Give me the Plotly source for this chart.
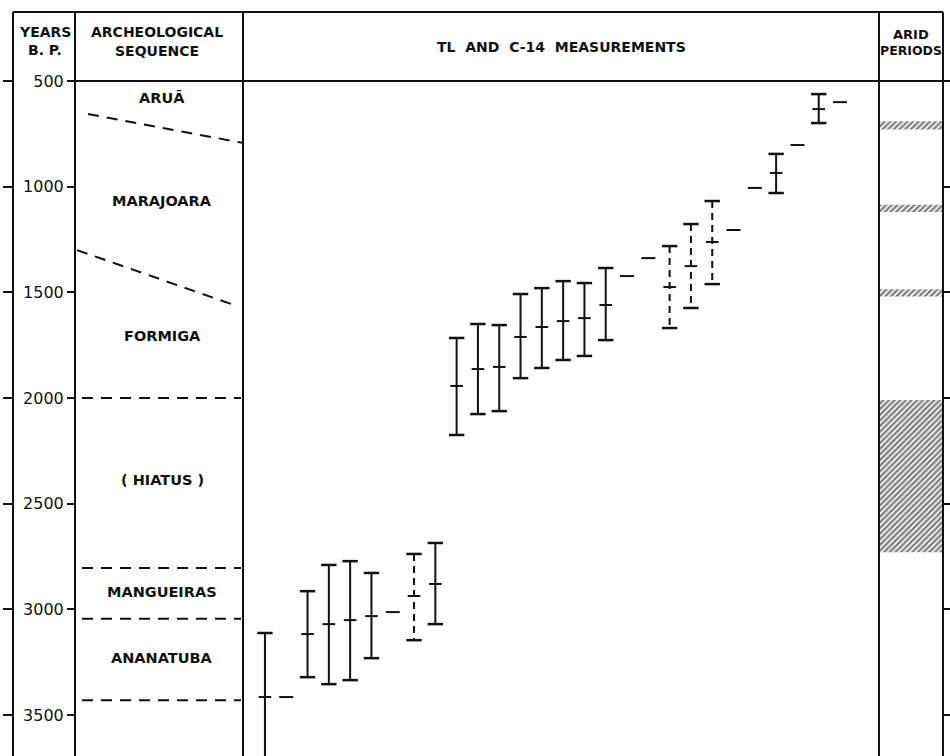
import plotly.graph_objects as go

# ---- data -------------------------------------------------------------
# sample slots along the TL / C-14 column (0 = oldest on the left)
bar_pos = [0, 2, 3, 4, 5, 8, 9, 10, 11, 12, 13, 14, 15, 16, 24, 26]
bar_mid = [3415, 3117, 3070, 3051, 3032, 2880, 1943, 1863, 1853, 1711, 1664, 1636, 1622, 1560, 935, 633]
bar_young = [3112, 2914, 2790, 2772, 2828, 2686, 1716, 1650, 1655, 1508, 1480, 1447, 1456, 1385, 845, 562]
bar_old = [3718, 3321, 3354, 3335, 3231, 3070, 2175, 2076, 2062, 1906, 1858, 1820, 1801, 1726, 1030, 699]

# measurements drawn with a dashed range
dbar_pos = [7, 19, 20, 21]
dbar_mid = [2937, 1475, 1376, 1262]
dbar_young = [2738, 1281, 1177, 1068]
dbar_old = [3146, 1669, 1574, 1461]

# single dates without a range
single_pos = [1, 6, 17, 18, 22, 23, 25, 27]
single_val = [3415, 3013, 1423, 1338, 1205, 1006, 803, 600]

# arid periods (years B.P.)
arid_start = [690, 1085, 1485, 2010]
arid_end = [730, 1120, 1520, 2730]

# archeological sequence
phase_names = ["ARUĀ", "MARAJOARA", "FORMIGA", "( HIATUS )", "MANGUEIRAS", "ANANATUBA"]
phase_label_y = [580, 1068, 1707, 2388, 2918, 3231]
level_bounds = [2000, 2805, 3045, 3430]
sloped_bounds = [((88, 656), (243, 793)), ((77, 1300), (237, 1565))]

year_ticks = [500, 1000, 1500, 2000, 2500, 3000, 3500]
year_range = [3694, 500]

# ---- geometry (pixels of a 950 x 756 page) ----------------------------
W, H = 950, 756
X_LEFT, X_YEARS, X_SEQ, X_ARID, X_RIGHT = 13, 75, 243, 879, 943
Y_TOP, Y_HEAD = 12, 81


def px(x):
    return x / W


def py(y):
    return 1 - y / H


BLACK = "#111111"
FONT = "DejaVu Sans"

fig = go.Figure()


def segments(pos, lo, hi):
    xs, ys = [], []
    for p, a, b in zip(pos, lo, hi):
        xs += [p, p, None]
        ys += [a, b, None]
    return xs, ys


# solid ranges
sx, sy = segments(bar_pos, bar_young, bar_old)
fig.add_trace(go.Scatter(x=sx, y=sy, mode="lines", line=dict(color=BLACK, width=2),
                         hoverinfo="skip", showlegend=False))
# dashed ranges
dx, dy = segments(dbar_pos, dbar_young, dbar_old)
fig.add_trace(go.Scatter(x=dx, y=dy, mode="lines", line=dict(color=BLACK, width=2, dash="7px,5px"),
                         hoverinfo="skip", showlegend=False))

# caps on both ends of every range
cap_x = bar_pos + bar_pos + dbar_pos + dbar_pos
cap_y = bar_young + bar_old + dbar_young + dbar_old
fig.add_trace(go.Scatter(x=cap_x, y=cap_y, mode="markers",
                         marker=dict(symbol="line-ew", size=11, line=dict(color=BLACK, width=2.5)),
                         hoverinfo="skip", showlegend=False))
# central values
fig.add_trace(go.Scatter(x=bar_pos + dbar_pos, y=bar_mid + dbar_mid, mode="markers",
                         marker=dict(symbol="line-ew", size=9, line=dict(color=BLACK, width=2)),
                         hoverinfo="skip", showlegend=False))
# single dates
fig.add_trace(go.Scatter(x=single_pos, y=single_val, mode="markers",
                         marker=dict(symbol="line-ew", size=10, line=dict(color=BLACK, width=2)),
                         hoverinfo="skip", showlegend=False))

# arid periods as hatched bars
fig.add_trace(go.Bar(x=[0] * len(arid_start), base=arid_start,
                     y=[e - s for s, e in zip(arid_start, arid_end)],
                     width=1, xaxis="x2", yaxis="y",
                     marker=dict(color="white", line=dict(width=0),
                                 pattern=dict(shape="/", fgcolor="#000000", bgcolor="white",
                                              size=4, solidity=0.6)),
                     hoverinfo="skip", showlegend=False))

# helper traces so the extra tick axes are drawn
fig.add_trace(go.Scatter(x=[None], y=[None], yaxis="y2", showlegend=False, hoverinfo="skip"))
fig.add_trace(go.Scatter(x=[None], y=[None], yaxis="y3", showlegend=False, hoverinfo="skip"))

tick_axis = dict(range=year_range, tickvals=year_ticks, showgrid=False, zeroline=False,
                 showline=False, ticks="outside", tickwidth=2, tickcolor=BLACK,
                 domain=[0, py(Y_HEAD)], anchor="free", fixedrange=True, automargin=False)

fig.update_layout(
    width=W, height=H,
    margin=dict(l=0, r=0, t=0, b=0, pad=0, autoexpand=False),
    paper_bgcolor="white", plot_bgcolor="white",
    barmode="overlay",
    xaxis=dict(domain=[px(X_SEQ), px(X_ARID)], range=[-1.03, 28.83], visible=False,
               anchor="y", fixedrange=True, automargin=False),
    xaxis2=dict(domain=[px(X_ARID + 1), px(X_RIGHT - 1)], range=[-0.5, 0.5], visible=False,
                anchor="y", fixedrange=True, automargin=False),
    yaxis=dict(tick_axis, position=px(X_YEARS), side="left", ticklen=8,
               ticktext=[str(v) for v in year_ticks], showticklabels=True,
               tickfont=dict(family=FONT, size=16, color=BLACK)),
    yaxis2=dict(tick_axis, position=px(X_LEFT), side="left", ticklen=10,
                showticklabels=False, overlaying="y"),
    yaxis3=dict(tick_axis, position=px(X_RIGHT), side="right", ticklen=7,
                showticklabels=False, overlaying="y"),
)

line = dict(color=BLACK, width=2)
# column borders
for xv in [X_LEFT, X_YEARS, X_SEQ, X_ARID, X_RIGHT]:
    fig.add_shape(type="line", xref="paper", yref="paper",
                  x0=px(xv), x1=px(xv), y0=0, y1=py(Y_TOP), line=line)
# top border and header rule
fig.add_shape(type="line", xref="paper", yref="paper",
              x0=px(X_LEFT), x1=px(X_RIGHT), y0=py(Y_TOP), y1=py(Y_TOP), line=line)
fig.add_shape(type="line", xref="paper", yref="paper",
              x0=px(X_YEARS), x1=px(X_RIGHT), y0=py(Y_HEAD), y1=py(Y_HEAD), line=line)

# phase boundaries in the sequence column
dash = dict(color=BLACK, width=2, dash="11px,8px")
for yv in level_bounds:
    fig.add_shape(type="line", xref="paper", yref="y",
                  x0=px(82), x1=px(241), y0=yv, y1=yv, line=dash)
for (x0, y0), (x1, y1) in sloped_bounds:
    fig.add_shape(type="line", xref="paper", yref="y",
                  x0=px(x0), x1=px(x1), y0=y0, y1=y1, line=dash)

# phase names
seq_center = px(162)
for name, yv in zip(phase_names, phase_label_y):
    fig.add_annotation(text=f"<b>{name}</b>", xref="paper", yref="y", x=seq_center, y=yv,
                       xanchor="center", yanchor="middle", showarrow=False,
                       font=dict(family=FONT, size=14.5, color=BLACK))

# headers
headers = [
    ("YEARS", 44.5, 32, 14), ("B. P.", 44.5, 50, 14),
    ("ARCHEOLOGICAL", 157, 32, 14), ("SEQUENCE", 157, 51, 14),
    ("TL  AND  C-14  MEASUREMENTS", 561, 47, 14),
    ("ARID", 911, 35, 13), ("PERIODS", 911, 50, 12.5),
]
for text, xv, yv, size in headers:
    fig.add_annotation(text=f"<b>{text}</b>", xref="paper", yref="paper", x=px(xv), y=py(yv),
                       xanchor="center", yanchor="middle", showarrow=False,
                       font=dict(family=FONT, size=size, color=BLACK))

fig.write_html("out.html")
